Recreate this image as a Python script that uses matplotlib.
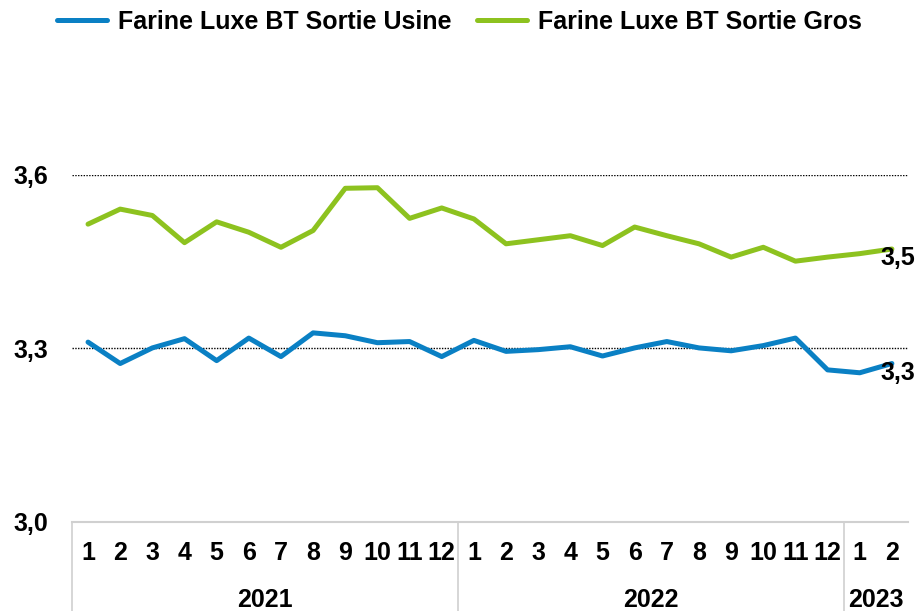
import numpy as np
import matplotlib.pyplot as plt
from matplotlib import transforms

plt.rcParams['font.family'] = ['Liberation Sans', 'DejaVu Sans']
plt.rcParams['font.weight'] = 'bold'

# data
months = ['1', '2', '3', '4', '5', '6', '7', '8', '9', '10', '11', '12',
          '1', '2', '3', '4', '5', '6', '7', '8', '9', '10', '11', '12',
          '1', '2']
years = ['2021', '2022', '2023']
year_counts = [12, 12, 2]

usine = [3.311, 3.274, 3.301, 3.317, 3.279, 3.318, 3.286, 3.327, 3.322, 3.310,
         3.312, 3.286, 3.314, 3.295, 3.298, 3.303, 3.287, 3.301, 3.312, 3.301,
         3.296, 3.305, 3.318, 3.263, 3.258, 3.274]
gros = [3.515, 3.541, 3.530, 3.483, 3.519, 3.501, 3.475, 3.504, 3.577, 3.578,
        3.525, 3.543, 3.524, 3.481, 3.488, 3.495, 3.478, 3.510, 3.495, 3.481,
        3.458, 3.475, 3.451, 3.458, 3.464, 3.472]

blue = '#0a80c4'
green = '#8dc21f'

fig = plt.figure(figsize=(9.19, 6.11), dpi=100)
ax = fig.add_axes([0.0783, 0.1457, 0.9097, 0.5679])

x = np.arange(len(months))
ax.plot(x, usine, color=blue, lw=3.6, label='Farine Luxe BT Sortie Usine', solid_capstyle='round')
ax.plot(x, gros, color=green, lw=3.6, label='Farine Luxe BT Sortie Gros', solid_capstyle='round')

# dotted gridlines
for yv in [3.3, 3.6]:
    ax.axhline(yv, color='black', lw=1, linestyle=(0, (1, 1)), zorder=0)

ax.set_xlim(-0.5, len(months) - 0.5)
ax.set_ylim(3.0, 3.6)
ax.set_yticks([3.0, 3.3, 3.6])
ax.set_yticklabels(['3,0', '3,3', '3,6'])
ax.set_xticks(x)
ax.set_xticklabels(months)
ax.tick_params(axis='y', length=0, pad=17, labelsize=18)
ax.tick_params(axis='x', length=0, pad=14, labelsize=18)

for s in ['top', 'right', 'left']:
    ax.spines[s].set_visible(False)
ax.spines['bottom'].set_color('#d0d0d0')
ax.spines['bottom'].set_linewidth(1.5)

# year group labels and separators
trans = transforms.blended_transform_factory(ax.transData, ax.transAxes)
start = 0
for yr, cnt in zip(years, year_counts):
    ax.plot([start - 0.5, start - 0.5], [0, -0.3], color='#d0d0d0', lw=1.2,
            transform=trans, clip_on=False)
    ax.annotate(yr, xy=(start + (cnt - 1) / 2, 0), xycoords=trans,
                xytext=(0, -66), textcoords='offset pixels',
                ha='center', va='top', fontsize=18, fontweight='bold')
    start += cnt

# end labels
ax.annotate('3,5', xy=(x[-1], gros[-1]), xytext=(6, -9), textcoords='offset pixels',
            ha='center', va='center', fontsize=18, fontweight='bold')
ax.annotate('3,3', xy=(x[-1], usine[-1]), xytext=(6, -9), textcoords='offset pixels',
            ha='center', va='center', fontsize=18, fontweight='bold')

fig.legend(loc='center', bbox_to_anchor=(0.5, 1 - 22 / 611), ncol=2, frameon=False,
           handlelength=2.0, handletextpad=0.45, columnspacing=1.0,
           prop={'weight': 'bold', 'size': 18})

fig.savefig('out.png', dpi=100)
